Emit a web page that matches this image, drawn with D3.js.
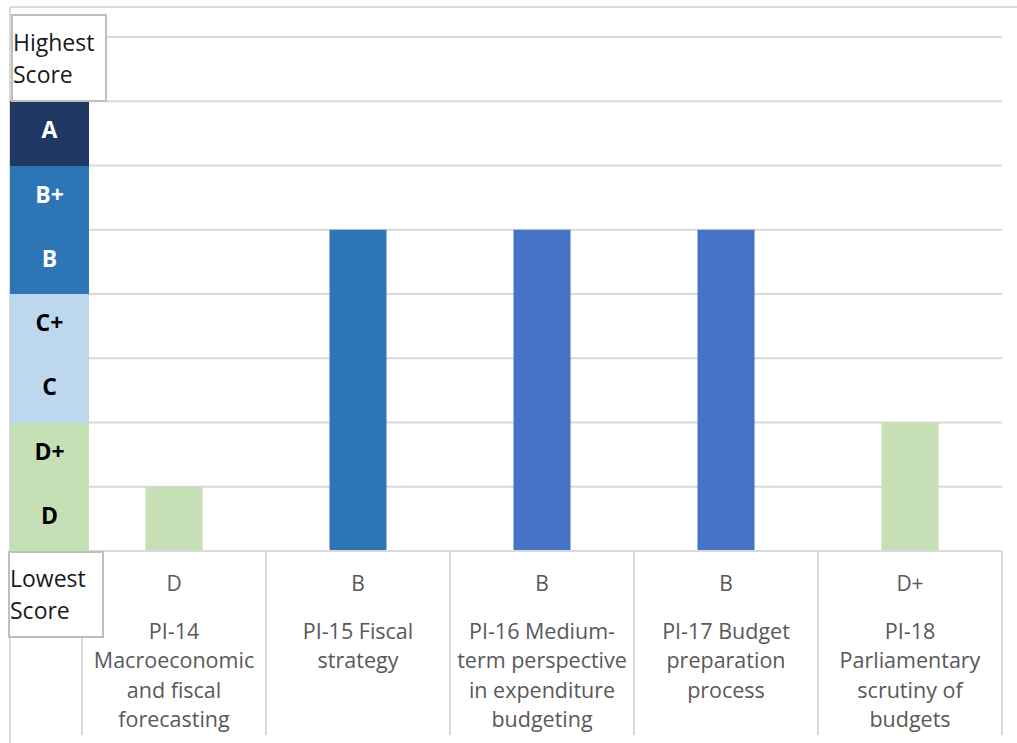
<!DOCTYPE html>
<html>
<head>
<meta charset="utf-8">
<script src="https://cdn.jsdelivr.net/npm/d3@7"></script>
<style>
  html, body { margin: 0; padding: 0; background: #ffffff; }
  svg { display: block; font-family: "Open Sans", "Noto Sans", sans-serif; }
</style>
</head>
<body>
<svg id="chart" width="1017" height="743"></svg>
<script>
// PEFA pillar scores, PI-14 to PI-18
const categories = ["PI-14", "PI-15", "PI-16", "PI-17", "PI-18"];
const categoryLines = [
  ["PI-14", "Macroeconomic", "and fiscal", "forecasting"],
  ["PI-15 Fiscal", "strategy"],
  ["PI-16 Medium-", "term perspective", "in expenditure", "budgeting"],
  ["PI-17 Budget", "preparation", "process"],
  ["PI-18", "Parliamentary", "scrutiny of", "budgets"]
];
const scores = ["D", "B", "B", "B", "D+"];

// Grade ladder, lowest to highest; bar height = rank in this list
const gradeLadder = ["D", "D+", "C", "C+", "B", "B+", "A"];
const gridTicks = [1, 2, 3, 4, 5, 6, 7, 8];

const rank = g => gradeLadder.indexOf(g) + 1;

// colour groups for the grade strip and the bars
const gradeFill = { "A": "#1f3864", "B+": "#2e75b6", "B": "#2e75b6",
  "C+": "#bdd7ee", "C": "#bdd7ee", "D+": "#c5e0b4", "D": "#c5e0b4" };
const gradeText = { "A": "#ffffff", "B+": "#ffffff", "B": "#ffffff",
  "C+": "#000000", "C": "#000000", "D+": "#000000", "D": "#000000" };
const barFill = ["#c5e0b4", "#2e75b6", "#4472c4", "#4472c4", "#c5e0b4"];

const svg = d3.select("#chart");
const gridColor = "#d9d9d9";

const plot = { left: 82, right: 1002, top: 37, bottom: 551 };
const y = d3.scaleLinear().domain([0, 8]).range([plot.bottom, plot.top]);
const x = d3.scaleBand().domain(categories).range([plot.left, plot.right])
  .paddingInner(0).paddingOuter(0);
const barW = 57;

// outer frame (top and left edges)
svg.append("line").attr("x1", 10).attr("x2", 1017).attr("y1", 7).attr("y2", 7)
  .attr("stroke", gridColor).attr("stroke-width", 2);
svg.append("line").attr("x1", 10).attr("x2", 10).attr("y1", 7).attr("y2", 743)
  .attr("stroke", gridColor).attr("stroke-width", 2);

// horizontal gridlines
svg.append("g").selectAll("line").data(gridTicks).join("line")
  .attr("x1", plot.left).attr("x2", plot.right)
  .attr("y1", d => y(d)).attr("y2", d => y(d))
  .attr("stroke", gridColor).attr("stroke-width", 2);

// bars
svg.append("g").selectAll("rect").data(categories).join("rect")
  .attr("x", d => x(d) + x.bandwidth() / 2 - barW / 2)
  .attr("width", barW)
  .attr("y", (d, i) => y(rank(scores[i])))
  .attr("height", (d, i) => y(0) - y(rank(scores[i])))
  .attr("fill", (d, i) => barFill[i]);

// table under the plot: baseline and column dividers
svg.append("line").attr("x1", plot.left).attr("x2", plot.right)
  .attr("y1", y(0)).attr("y2", y(0))
  .attr("stroke", gridColor).attr("stroke-width", 2);
const dividers = categories.map(c => x(c)).concat([plot.right]);
svg.append("g").selectAll("line").data(dividers).join("line")
  .attr("x1", d => d).attr("x2", d => d)
  .attr("y1", y(0)).attr("y2", 735)
  .attr("stroke", gridColor).attr("stroke-width", 2);

// score row and category names
const cols = svg.append("g").selectAll("g").data(categories).join("g")
  .attr("transform", d => `translate(${x(d) + x.bandwidth() / 2},0)`);
cols.append("text")
  .attr("y", 584).attr("dy", "0.35em")
  .attr("text-anchor", "middle")
  .attr("font-size", 21).attr("fill", "#595959")
  .text((d, i) => scores[i]);
cols.each(function(d, i) {
  d3.select(this).selectAll("text.name").data(categoryLines[i]).join("text")
    .attr("class", "name")
    .attr("y", (t, j) => 631 + j * 29.6).attr("dy", "0.35em")
    .attr("text-anchor", "middle")
    .attr("font-size", 21.5).attr("fill", "#595959")
    .text(t => t);
});

// grade strip on the left (whole-pixel edges so adjacent blocks join seamlessly)
const strip = svg.append("g").attr("shape-rendering", "crispEdges");
strip.selectAll("rect").data(gradeLadder).join("rect")
  .attr("x", 10).attr("width", 79)
  .attr("y", d => Math.round(y(rank(d))))
  .attr("height", d => Math.round(y(rank(d) - 1)) - Math.round(y(rank(d))))
  .attr("fill", d => gradeFill[d]);
svg.append("g").selectAll("text").data(gradeLadder).join("text")
  .attr("x", 49.5)
  .attr("y", d => y(rank(d) - 0.5) - 3).attr("dy", "0.35em")
  .attr("text-anchor", "middle")
  .attr("font-size", 23).attr("font-weight", 700)
  .attr("fill", d => gradeText[d])
  .text(d => d);

// "Highest Score" / "Lowest Score" captions
function caption(x0, y0, w, h, lines, baselines) {
  svg.append("rect").attr("x", x0).attr("y", y0).attr("width", w).attr("height", h)
    .attr("fill", "#ffffff").attr("stroke", "#bfbfbf").attr("stroke-width", 2);
  lines.forEach((t, j) => {
    svg.append("text").attr("x", x0 + 1).attr("y", baselines[j])
      .attr("font-size", 23).attr("fill", "#1a1a1a").text(t);
  });
}
caption(12, 15, 94, 86, ["Highest", "Score"], [51, 83]);
caption(9, 552, 94, 85, ["Lowest", "Score"], [587, 619]);
</script>
</body>
</html>
